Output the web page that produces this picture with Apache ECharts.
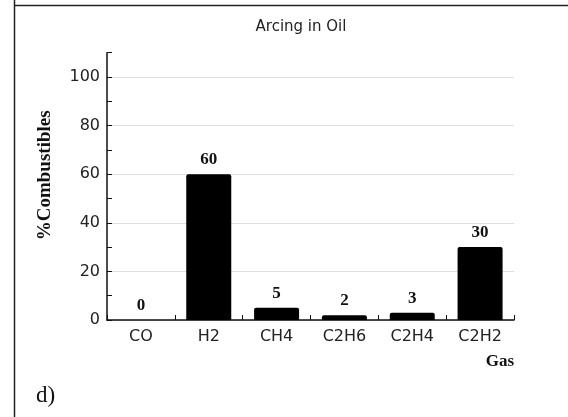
<!DOCTYPE html>
<html>
<head>
<meta charset="utf-8">
<script src="https://cdn.jsdelivr.net/npm/echarts@6/dist/echarts.min.js"></script>
<style>html,body{margin:0;padding:0;background:#fff;}#c{width:568px;height:417px;}</style>
</head>
<body>
<div id="c"></div>
<script>
const categories = ['CO', 'H2', 'CH4', 'C2H6', 'C2H4', 'C2H2'];
const values = [0, 60, 5, 2, 3, 30];
const yTickLabels = [0, 20, 40, 60, 80, 100];

const chart = echarts.init(document.getElementById('c'), null, {renderer: 'canvas'});
chart.setOption({
  animation: false,
  backgroundColor: '#fff',
  title: {
    text: 'Arcing in Oil',
    left: 296, top: 15, textAlign: 'center',
    textStyle: {fontFamily: 'DejaVu Sans', fontSize: 15, fontWeight: 'normal', color: '#222'}
  },
  grid: {left: 107, right: 54, top: 52.7, bottom: 97, containLabel: false},
  xAxis: {
    type: 'category',
    data: categories,
    name: 'Gas',
    nameLocation: 'end',
    nameGap: 0,
    nameTextStyle: {fontFamily: 'Liberation Serif, Times New Roman', fontWeight: 'bold', fontSize: 17, color: '#111',
      align: 'right', verticalAlign: 'top', padding: [33, 0, 0, 0]},
    axisLine: {lineStyle: {color: '#111', width: 1.5}},
    axisTick: {show: true, inside: true, length: 5, lineStyle: {color: '#111'}},
    axisLabel: {fontFamily: 'DejaVu Sans', fontSize: 16, color: '#222', margin: 9},
    splitLine: {show: false}
  },
  yAxis: {
    type: 'value',
    min: 0, max: 110, interval: 10,
    name: '%Combustibles',
    nameLocation: 'middle',
    nameGap: 52,
    nameRotate: 90,
    nameTextStyle: {fontFamily: 'Liberation Serif, Times New Roman', fontWeight: 'bold', fontSize: 19, color: '#111', padding: [0, 0, 0, 22]},
    axisLine: {show: true, lineStyle: {color: '#111', width: 1.5}},
    axisTick: {show: true, inside: true, length: 5, lineStyle: {color: '#111'}},
    axisLabel: {
      fontFamily: 'DejaVu Sans', fontSize: 16, color: '#222', margin: 7,
      formatter: function (v) { return yTickLabels.indexOf(v) >= 0 ? String(v) : ''; }
    },
    splitLine: {show: true, lineStyle: {color: ['#ddd', 'rgba(0,0,0,0)'], width: 1}}
  },
  series: [{
    type: 'bar',
    data: values,
    barWidth: 45,
    itemStyle: {color: '#000', borderRadius: [2, 2, 0, 0]},
    label: {
      show: true, position: 'top', distance: 6,
      fontFamily: 'Liberation Serif, Times New Roman', fontWeight: 'bold', fontSize: 17, color: '#111'
    }
  }],
  graphic: [
    {type: 'line', shape: {x1: 14.5, y1: 0, x2: 14.5, y2: 417}, style: {stroke: '#222', lineWidth: 1.5}},
    {type: 'line', shape: {x1: 14, y1: 5.5, x2: 568, y2: 5.5}, style: {stroke: '#222', lineWidth: 1.5}},
    {type: 'text', left: 36, top: 384, style: {text: 'd)', font: '23px "Liberation Serif", "Times New Roman"', fill: '#111'}}
  ]
});
</script>
</body>
</html>
